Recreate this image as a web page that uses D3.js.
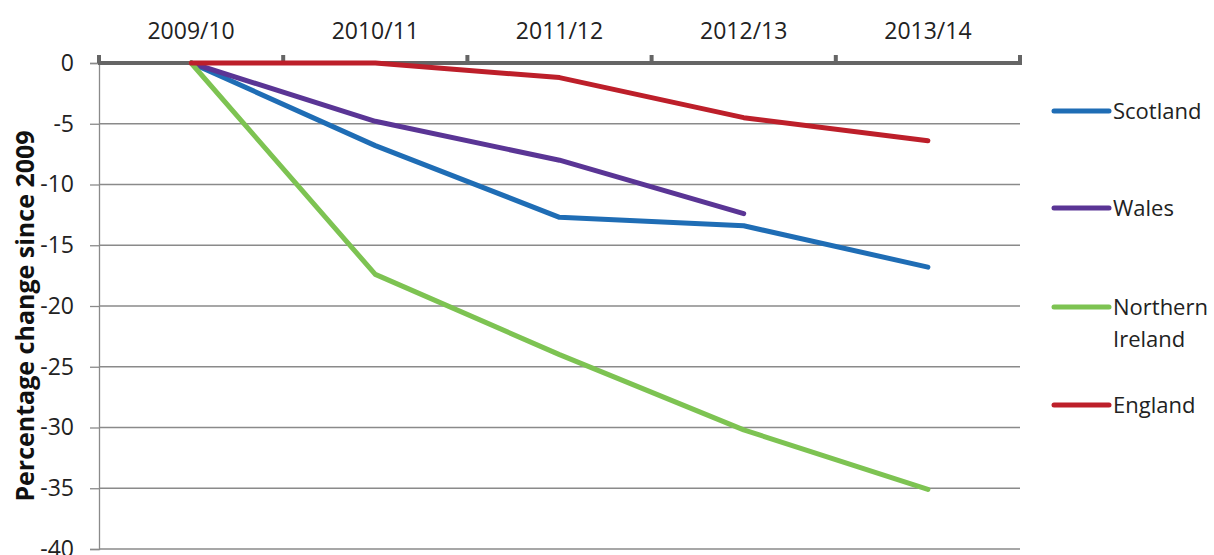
<!DOCTYPE html>
<html>
<head>
<meta charset="utf-8">
<script src="https://cdn.jsdelivr.net/npm/d3@7"></script>
<style>
  body { margin: 0; background: #fff; }
  svg { display: block; font-family: "Open Sans", sans-serif; }
</style>
</head>
<body>
<div id="chart"></div>
<script>
// Data
const years = ["2009/10", "2010/11", "2011/12", "2012/13", "2013/14"];
const scotland = [0, -6.8, -12.7, -13.4, -16.8];
const wales = [0, -4.8, -8.0, -12.4];
const northernIreland = [0, -17.4, -24.0, -30.2, -35.1];
const england = [0, 0, -1.2, -4.5, -6.4];
const yTicks = [0, -5, -10, -15, -20, -25, -30, -35, -40];

const series = [
  { name: ["Scotland"], values: scotland, color: "#1f6db5" },
  { name: ["Wales"], values: wales, color: "#5a3595" },
  { name: ["Northern", "Ireland"], values: northernIreland, color: "#7dc352" },
  { name: ["England"], values: england, color: "#bd1f2a" }
];

const width = 1214, height = 555;
const plotLeft = 99, plotRight = 1020, plotTop = 63, plotBottom = 549;

const svg = d3.select("#chart").append("svg")
  .attr("width", width)
  .attr("height", height);

const x = d3.scaleBand().domain(years).range([plotLeft, plotRight]);
const y = d3.scaleLinear().domain([0, -40]).range([plotTop, plotBottom]);

// gridlines
svg.append("g")
  .selectAll("line")
  .data(yTicks.slice(1))
  .enter().append("line")
  .attr("x1", plotLeft).attr("x2", plotRight)
  .attr("y1", d => y(d)).attr("y2", d => y(d))
  .attr("stroke", "#8a8a8a").attr("stroke-width", 1.3);

// y axis
const yAxis = svg.append("g")
  .attr("transform", "translate(" + plotLeft + ",0)")
  .call(d3.axisLeft(y).tickValues(yTicks).tickSize(9).tickPadding(16).tickFormat(d => String(d)));
yAxis.select(".domain").attr("stroke", "#8a8a8a").attr("stroke-width", 1.3);
yAxis.selectAll(".tick line").attr("stroke", "#8a8a8a").attr("stroke-width", 1.3);
yAxis.selectAll("text").attr("font-size", 23).attr("fill", "#222")
  .attr("font-family", "'Open Sans', sans-serif");

// x axis at zero (top)
const xAxis = svg.append("g")
  .attr("transform", "translate(0," + y(0) + ")")
  .call(d3.axisTop(x).tickSize(0).tickPadding(24));
xAxis.select(".domain").remove();
xAxis.selectAll("text").attr("font-size", 23).attr("fill", "#222")
  .attr("font-family", "'Open Sans', sans-serif");

const bounds = years.map(d => x(d)).concat([x(years[years.length - 1]) + x.bandwidth()]);
svg.append("g")
  .selectAll("line")
  .data(bounds)
  .enter().append("line")
  .attr("x1", d => d).attr("x2", d => d)
  .attr("y1", y(0) - 8).attr("y2", y(0))
  .attr("stroke", "#656565").attr("stroke-width", 4);
svg.append("line")
  .attr("x1", plotLeft - 1).attr("x2", plotRight + 2)
  .attr("y1", y(0)).attr("y2", y(0))
  .attr("stroke", "#656565").attr("stroke-width", 4);

// lines
const line = d3.line()
  .x((d, i) => x(years[i]) + x.bandwidth() / 2)
  .y(d => y(d));

svg.append("g")
  .selectAll("path")
  .data(series)
  .enter().append("path")
  .attr("d", d => line(d.values))
  .attr("fill", "none")
  .attr("stroke", d => d.color)
  .attr("stroke-width", 5)
  .attr("stroke-linecap", "round")
  .attr("stroke-linejoin", "round");

// legend
const legendY = [111, 208, 307, 405];
const legend = svg.append("g")
  .selectAll("g")
  .data(series)
  .enter().append("g")
  .attr("transform", (d, i) => "translate(1054," + legendY[i] + ")");
legend.append("line")
  .attr("x1", 0).attr("x2", 55)
  .attr("stroke", d => d.color)
  .attr("stroke-width", 5)
  .attr("stroke-linecap", "round");
legend.append("text")
  .attr("x", 59)
  .attr("font-size", 22)
  .attr("fill", "#222")
  .selectAll("tspan")
  .data(d => d.name)
  .enter().append("tspan")
  .attr("x", 59)
  .attr("dy", (d, i) => i === 0 ? "0.35em" : "1.45em")
  .text(d => d);

// y title
svg.append("text")
  .attr("transform", "translate(34,316) rotate(-90)")
  .attr("text-anchor", "middle")
  .attr("font-size", 25)
  .attr("font-weight", "bold")
  .attr("fill", "#111")
  .text("Percentage change since 2009");
</script>
</body>
</html>
